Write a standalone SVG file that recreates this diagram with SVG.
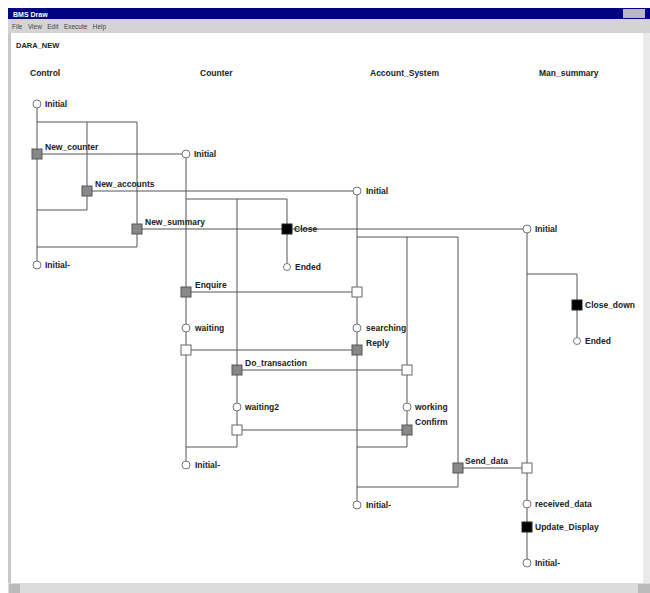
<svg xmlns="http://www.w3.org/2000/svg" width="650" height="593" viewBox="0 0 650 593">
<style>
text{font-family:"Liberation Sans",Arial,sans-serif;font-size:8.5px;font-weight:bold;fill:#222}
.hdr{font-size:8.5px}
.c line{stroke:#555;stroke-width:1}
.st{fill:#fff;stroke:#777;stroke-width:1}
.tg{fill:#888;stroke:#555;stroke-width:1}
.tb{fill:#000;stroke:#222;stroke-width:1}
.tw{fill:#fff;stroke:#666;stroke-width:1}
</style>
<rect width="650" height="593" fill="#fff"/>
<g id="chrome">
<rect x="8" y="8" width="642" height="11" fill="#000080"/>
<text x="13" y="16.5" style="fill:#fff;font-size:7px">BMS Draw</text>
<rect x="623" y="9" width="22" height="9" fill="#b8b8c8"/>
<rect x="8" y="19" width="642" height="14" fill="#d4d4d4"/>
<text x="12" y="29" style="font-weight:normal;font-size:6.5px;fill:#444" xml:space="preserve">File   View   Edit   Execute   Help</text>
<rect x="8" y="33" width="3" height="550" fill="#c8c8c8"/>
<rect x="643" y="33" width="7" height="550" fill="#eaeaea"/>
<rect x="8" y="583" width="642" height="10" fill="#dcdcdc"/>
<rect x="9" y="584" width="11" height="9" fill="#bbb"/>
<rect x="638" y="584" width="12" height="9" fill="#bbb"/>
<text x="16" y="48" style="font-size:7.5px">DARA_NEW</text>
</g>
<g id="headers">
<text class="hdr" x="30" y="76">Control</text>
<text class="hdr" x="200" y="76">Counter</text>
<text class="hdr" x="370" y="76">Account_System</text>
<text class="hdr" x="539" y="76">Man_summary</text>
</g>
<g id="connectors" class="c">
<line x1="37" y1="104" x2="37" y2="265"/>
<line x1="37" y1="122" x2="137" y2="122"/>
<line x1="87" y1="122" x2="87" y2="210"/>
<line x1="37" y1="210" x2="87" y2="210"/>
<line x1="137" y1="122" x2="137" y2="247"/>
<line x1="37" y1="247" x2="137" y2="247"/>
<line x1="37" y1="154" x2="186" y2="154"/>
<line x1="87" y1="191" x2="357" y2="191"/>
<line x1="137" y1="229" x2="527" y2="229"/>
<line x1="186" y1="154" x2="186" y2="465"/>
<line x1="186" y1="199" x2="287" y2="199"/>
<line x1="237" y1="199" x2="237" y2="447"/>
<line x1="186" y1="447" x2="237" y2="447"/>
<line x1="287" y1="199" x2="287" y2="267"/>
<line x1="186" y1="292" x2="357" y2="292"/>
<line x1="186" y1="350" x2="357" y2="350"/>
<line x1="237" y1="370" x2="407" y2="370"/>
<line x1="237" y1="430" x2="407" y2="430"/>
<line x1="357" y1="191" x2="357" y2="505"/>
<line x1="357" y1="237" x2="458" y2="237"/>
<line x1="407" y1="237" x2="407" y2="447"/>
<line x1="357" y1="447" x2="407" y2="447"/>
<line x1="458" y1="237" x2="458" y2="487"/>
<line x1="357" y1="487" x2="458" y2="487"/>
<line x1="458" y1="468" x2="527" y2="468"/>
<line x1="527" y1="229" x2="527" y2="563"/>
<line x1="527" y1="274" x2="577" y2="274"/>
<line x1="577" y1="274" x2="577" y2="341"/>
</g>
<g id="ctl_initial"><circle class="st" cx="37" cy="104" r="4"/><text x="45" y="107">Initial</text></g>
<g id="new_counter"><rect class="tg" x="32" y="149" width="10" height="10"/><text x="45" y="150">New_counter</text></g>
<g id="new_accounts"><rect class="tg" x="82" y="186" width="10" height="10"/><text x="95" y="187">New_accounts</text></g>
<g id="new_summary"><rect class="tg" x="132" y="224" width="10" height="10"/><text x="145" y="225">New_summary</text></g>
<g id="ctl_initial_end"><circle class="st" cx="37" cy="265" r="4"/><text x="45" y="268">Initial-</text></g>
<g id="cnt_initial"><circle class="st" cx="186" cy="154" r="4"/><text x="194" y="157">Initial</text></g>
<g id="close"><rect class="tb" x="282" y="224" width="10" height="10"/><text x="294" y="232">Close</text></g>
<g id="cnt_ended"><circle class="st" cx="287" cy="267" r="3.5"/><text x="295" y="270">Ended</text></g>
<g id="enquire"><rect class="tg" x="181" y="287" width="10" height="10"/><text x="195" y="288">Enquire</text></g>
<g id="waiting"><circle class="st" cx="186" cy="328" r="4"/><text x="195" y="331">waiting</text></g>
<g id="cnt_recv_reply"><rect class="tw" x="181" y="345" width="10" height="10"/></g>
<g id="do_transaction"><rect class="tg" x="232" y="365" width="10" height="10"/><text x="245" y="366">Do_transaction</text></g>
<g id="waiting2"><circle class="st" cx="237" cy="407" r="4"/><text x="245" y="410">waiting2</text></g>
<g id="cnt_recv_confirm"><rect class="tw" x="232" y="425" width="10" height="10"/></g>
<g id="cnt_initial_end"><circle class="st" cx="186" cy="465" r="4"/><text x="195" y="468">Initial-</text></g>
<g id="acc_initial"><circle class="st" cx="357" cy="191" r="4"/><text x="366" y="194">Initial</text></g>
<g id="acc_recv_enquire"><rect class="tw" x="352" y="287" width="10" height="10"/></g>
<g id="searching"><circle class="st" cx="357" cy="328" r="4"/><text x="366" y="331">searching</text></g>
<g id="reply"><rect class="tg" x="352" y="345" width="10" height="10"/><text x="366" y="346">Reply</text></g>
<g id="acc_recv_trans"><rect class="tw" x="402" y="365" width="10" height="10"/></g>
<g id="working"><circle class="st" cx="407" cy="407" r="4"/><text x="415" y="410">working</text></g>
<g id="confirm"><rect class="tg" x="402" y="425" width="10" height="10"/><text x="415" y="425">Confirm</text></g>
<g id="send_data"><rect class="tg" x="453" y="463" width="10" height="10"/><text x="465" y="464">Send_data</text></g>
<g id="acc_initial_end"><circle class="st" cx="357" cy="505" r="4"/><text x="366" y="508">Initial-</text></g>
<g id="mon_initial"><circle class="st" cx="527" cy="229" r="4"/><text x="535" y="232">Initial</text></g>
<g id="close_down"><rect class="tb" x="572" y="300" width="10" height="10"/><text x="585" y="308">Close_down</text></g>
<g id="mon_ended"><circle class="st" cx="577" cy="341" r="3.5"/><text x="585" y="344">Ended</text></g>
<g id="mon_recv_data"><rect class="tw" x="522" y="463" width="10" height="10"/></g>
<g id="received_data"><circle class="st" cx="527" cy="504" r="4"/><text x="535" y="507">received_data</text></g>
<g id="update_display"><rect class="tb" x="522" y="522" width="10" height="10"/><text x="535" y="530">Update_Display</text></g>
<g id="mon_initial_end"><circle class="st" cx="527" cy="563" r="4"/><text x="535" y="566">Initial-</text></g>
</svg>
